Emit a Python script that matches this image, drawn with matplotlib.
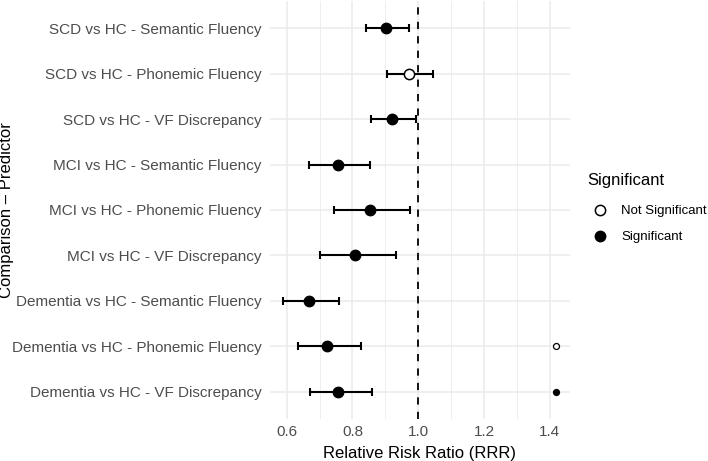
import matplotlib.pyplot as plt
from matplotlib.lines import Line2D

plt.rcParams['font.family'] = ['Liberation Sans', 'DejaVu Sans']

# Rows, top to bottom
labels = [
    "SCD vs HC - Semantic Fluency",
    "SCD vs HC - Phonemic Fluency",
    "SCD vs HC - VF Discrepancy",
    "MCI vs HC - Semantic Fluency",
    "MCI vs HC - Phonemic Fluency",
    "MCI vs HC - VF Discrepancy",
    "Dementia vs HC - Semantic Fluency",
    "Dementia vs HC - Phonemic Fluency",
    "Dementia vs HC - VF Discrepancy",
]
rrr = [0.903, 0.973, 0.921, 0.756, 0.852, 0.808, 0.669, 0.724, 0.757]
ci_low = [0.842, 0.906, 0.856, 0.667, 0.745, 0.702, 0.590, 0.634, 0.671]
ci_high = [0.973, 1.046, 0.993, 0.854, 0.975, 0.931, 0.760, 0.826, 0.859]
significant = [True, False, True, True, True, True, True, True, True]

# stray small points at the right edge
extra_x = [1.42, 1.42]
extra_row = [7, 8]
extra_sig = [False, True]

fig = plt.figure(figsize=(7.08, 4.61), dpi=100)
ax = fig.add_axes([0.381, 0.091, 0.424, 0.907])

ypos = list(range(len(labels)))

# grid
for x in [0.6, 0.8, 1.0, 1.2, 1.4]:
    ax.axvline(x, color='#EBEBEB', lw=1.1, zorder=0)
for x in [0.7, 0.9, 1.1, 1.3]:
    ax.axvline(x, color='#EBEBEB', lw=0.6, zorder=0)
for y in ypos:
    ax.axhline(y, color='#EBEBEB', lw=1.1, zorder=0)

ax.axvline(1.0, color='black', lw=1.3, ls=(0, (4, 4)), zorder=1)

for y, est, lo, hi, sig in zip(ypos, rrr, ci_low, ci_high, significant):
    ax.errorbar([est], [y], xerr=[[est - lo], [hi - est]], fmt='none',
                ecolor='black', elinewidth=1.5, capsize=3.2, capthick=1.5, zorder=2)
    ax.plot(est, y, 'o', ms=7.4, mec='black', mew=1.1,
            mfc='black' if sig else 'white', zorder=3)

for x, y, sig in zip(extra_x, extra_row, extra_sig):
    ax.plot(x, y, 'o', ms=4.3, mec='black', mew=0.9,
            mfc='black' if sig else 'white', zorder=3)

ax.set_xlim(0.5485, 1.4615)
ax.set_ylim(len(labels) - 0.4, -0.6)
ax.set_yticks(ypos)
ax.set_yticklabels(labels)
ax.set_xticks([0.6, 0.8, 1.0, 1.2, 1.4])
ax.set_xticklabels(['0.6', '0.8', '1.0', '1.2', '1.4'])
ax.tick_params(axis='both', length=0, labelsize=11, labelcolor='#4D4D4D')
ax.tick_params(axis='y', pad=6)
ax.tick_params(axis='x', pad=4)
for s in ax.spines.values():
    s.set_visible(False)

ax.set_xlabel('Relative Risk Ratio (RRR)', fontsize=12, labelpad=5.5)
ax.set_ylabel('Comparison \u2013 Predictor', fontsize=12)
ax.yaxis.set_label_coords(-0.853, 0.5)

# legend: title as separate text so the gap can match
fig.text(0.829, 1 - 180 / 461, 'Significant', fontsize=12, ha='left', va='center')
handles = [
    Line2D([], [], ls='none', marker='o', ms=7.4, mec='black', mew=1.1, mfc='white'),
    Line2D([], [], ls='none', marker='o', ms=7.4, mec='black', mew=1.1, mfc='black'),
]
fig.legend(handles, ['Not Significant', 'Significant'],
           loc='upper left', bbox_to_anchor=(0.829, 1 - 205 / 461), frameon=False,
           fontsize=9.5, handlelength=2.0, handletextpad=0.6,
           labelspacing=1.05, borderaxespad=0, borderpad=0)

fig.savefig('out.png', dpi=100)
